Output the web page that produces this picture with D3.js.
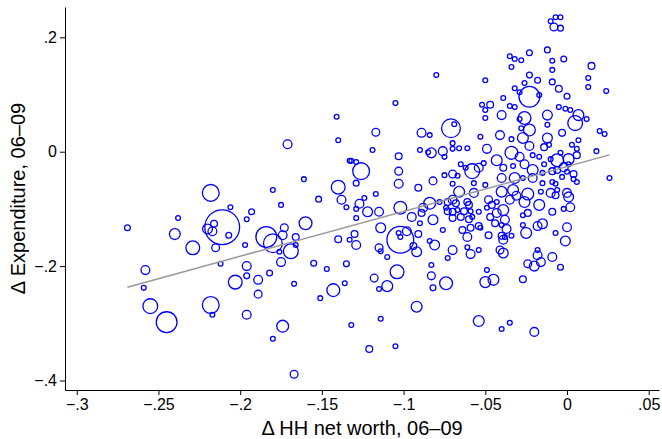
<!DOCTYPE html>
<html>
<head>
<meta charset="utf-8">
<script src="https://cdn.jsdelivr.net/npm/d3@7"></script>
<style>
  html, body { margin: 0; padding: 0; background: #fff; }
  svg { display: block; font-family: 'Liberation Sans', Arial, sans-serif; }
</style>
</head>
<body>
<div id="chart"></div>
<script>
// change in household net worth, 06-09 (x)
const netWorth = [
  -0.269,-0.258,-0.259,-0.255,-0.245,-0.218,-0.211,-0.220,-0.216,-0.217,
  -0.207,-0.206,-0.238,-0.240,-0.229,-0.215,-0.212,-0.218,-0.217,-0.196,
  -0.193,-0.196,-0.197,-0.196,-0.196,-0.203,-0.189,-0.189,-0.182,-0.180,
  -0.175,-0.184,-0.180,-0.173,-0.174,-0.166,-0.166,-0.169,-0.175,-0.176,
  -0.167,-0.174,-0.180,-0.167,-0.171,-0.141,-0.140,-0.117,-0.119,-0.133,
  -0.132,-0.129,-0.126,-0.129,-0.140,-0.161,-0.117,-0.138,-0.135,-0.152,
  -0.127,-0.129,-0.124,-0.122,-0.115,-0.160,-0.129,-0.114,-0.140,-0.130,
  -0.133,-0.129,-0.115,-0.114,-0.110,-0.155,-0.147,-0.135,-0.136,-0.143,
  -0.151,-0.118,-0.110,-0.115,-0.114,-0.132,-0.105,-0.121,-0.105,-0.080,
  -0.089,-0.084,-0.071,-0.069,-0.083,-0.085,-0.076,-0.070,-0.070,-0.066,
  -0.061,-0.075,-0.090,-0.103,-0.103,-0.103,-0.091,-0.102,-0.095,-0.089,
  -0.088,-0.084,-0.082,-0.090,-0.078,-0.073,-0.070,-0.068,-0.074,-0.073,
  -0.070,-0.067,-0.102,-0.103,-0.102,-0.098,-0.091,-0.076,-0.081,-0.084,
  -0.092,-0.094,-0.070,-0.073,-0.059,-0.061,-0.054,-0.104,-0.083,-0.083,
  -0.082,-0.074,-0.092,-0.082,-0.075,-0.070,-0.070,-0.067,-0.065,-0.062,
  -0.058,-0.054,-0.051,-0.049,-0.057,-0.050,-0.057,-0.066,-0.063,-0.061,
  -0.060,-0.059,-0.070,-0.065,-0.060,-0.058,-0.054,-0.049,-0.048,-0.046,
  -0.043,-0.047,-0.043,-0.039,-0.038,-0.044,-0.040,-0.054,-0.053,-0.059,
  -0.064,-0.061,-0.048,-0.040,-0.041,-0.054,-0.040,-0.035,-0.020,-0.049,
  -0.050,-0.045,-0.027,-0.024,-0.020,-0.016,-0.018,-0.018,-0.009,-0.004,
  -0.039,-0.010,-0.007,-0.004,-0.008,-0.004,-0.035,-0.032,-0.028,-0.034,
  -0.023,-0.012,-0.009,-0.002,-0.009, 0.015, 0.013, 0.013, 0.024,-0.050,
  -0.023,-0.018,-0.026,-0.009,-0.032,-0.029,-0.005,-0.023,-0.017, 0.000,
  -0.039,-0.052,-0.047,-0.050,-0.035,-0.032,-0.050,-0.040,-0.005,-0.001,
   0.002,-0.012,-0.026,-0.029,-0.028, 0.007, 0.005, 0.012,-0.012,-0.023,
  -0.041,-0.053,-0.027,-0.012,-0.003,-0.034, 0.020, 0.023, 0.007, 0.003,
  -0.023,-0.014,-0.011,-0.034,-0.029, 0.006, 0.018,-0.043,-0.021,-0.017,
  -0.014,-0.010,-0.006,-0.004, 0.001, 0.006, 0.026,-0.039,-0.033,-0.026,
  -0.021,-0.015,-0.009,-0.006,-0.002, 0.001, 0.000, 0.004, 0.004, 0.006,
  -0.032,-0.027,-0.021,-0.015,-0.009,-0.007,-0.003,-0.040,-0.033,-0.031,
  -0.035,-0.024,-0.026,-0.017,-0.010,-0.007,-0.006, 0.000, 0.001, 0.002,
  -0.002,-0.009,-0.016,-0.027,-0.024,-0.027,-0.025,-0.018,-0.015, 0.000,
  -0.007,-0.001,-0.037,-0.038,-0.039,-0.034,-0.040
];

// change in expenditure, 06-09 (y)
const expenditure = [
  -0.133,-0.207,-0.238,-0.270,-0.298,-0.072,-0.132,-0.135,-0.126,-0.139,
  -0.146,-0.097,-0.116,-0.144,-0.168,-0.168,-0.196,-0.268,-0.285,-0.285,
  -0.105,-0.118,-0.163,-0.200,-0.217,-0.228,-0.224,-0.249,-0.212,-0.067,
  -0.093,-0.149,-0.160,-0.133,-0.146,-0.149,-0.163,-0.174,-0.193,-0.175,
  -0.231,-0.305,-0.327,-0.389, 0.013, 0.061, 0.020, 0.034, 0.003,-0.016,
  -0.016,-0.018,-0.034,-0.055,-0.062,-0.048,-0.074,-0.084,-0.097,-0.083,
  -0.091,-0.100,-0.081,-0.105,-0.105,-0.125,-0.116,-0.133,-0.153,-0.144,
  -0.154,-0.163,-0.168,-0.174,-0.184,-0.195,-0.205,-0.196,-0.230,-0.242,
  -0.256,-0.221,-0.235,-0.240,-0.292,-0.303,-0.340,-0.345, 0.085, 0.134,
   0.033, 0.029, 0.041, 0.048,-0.002,-0.001, 0.001, 0.015, 0.005, 0.006,
   0.006,-0.009, 0.003,-0.008,-0.034,-0.056,-0.063,-0.098,-0.114,-0.107,
  -0.098,-0.090,-0.119,-0.125,-0.088,-0.088,-0.084,-0.090,-0.098,-0.104,
  -0.105,-0.102,-0.154,-0.142,-0.149,-0.139,-0.144,-0.137,-0.163,-0.156,
  -0.175,-0.165,-0.172,-0.186,-0.179,-0.167,-0.172,-0.210,-0.198,-0.217,
  -0.238,-0.230,-0.271,-0.051,-0.041,-0.039,-0.056,-0.042,-0.022,-0.028,
  -0.034,-0.028,-0.020, 0.005,-0.055,-0.058,-0.072,-0.070,-0.104,-0.088,
  -0.093,-0.104,-0.116,-0.114,-0.118,-0.114,-0.105,-0.098,-0.084,-0.093,
  -0.088,-0.114,-0.107,-0.102,-0.119,-0.125,-0.128,-0.130,-0.133,-0.133,
  -0.137,-0.149,-0.146,-0.147,-0.172,-0.296,-0.310,-0.299,-0.315,-0.207,
  -0.228,-0.224,-0.223,-0.196,-0.200,-0.193,-0.181,-0.172,-0.184,-0.202,
  -0.177, 0.228, 0.235, 0.235, 0.218, 0.216, 0.167, 0.162, 0.160, 0.148,
   0.173, 0.178, 0.159, 0.162, 0.143, 0.150, 0.129, 0.113, 0.106, 0.125,
   0.134, 0.125, 0.120, 0.122, 0.111, 0.104, 0.110, 0.096, 0.099, 0.097,
   0.094, 0.082, 0.082, 0.073, 0.080, 0.078, 0.059, 0.064, 0.078, 0.075,
   0.073, 0.064, 0.059, 0.057, 0.041, 0.064, 0.050, 0.057, 0.047, 0.038,
   0.029, 0.026, 0.024, 0.024, 0.033, 0.022, 0.036, 0.031, 0.020, 0.012,
   0.010, 0.008, 0.012,-0.002,-0.009, 0.005, 0.001,-0.015,-0.006,-0.009,
  -0.022,-0.013,-0.015,-0.002,-0.013,-0.006,-0.046,-0.028,-0.025,-0.022,
  -0.032,-0.037,-0.034,-0.032,-0.027,-0.022,-0.035,-0.039,-0.048,-0.053,
  -0.046,-0.046,-0.046,-0.055,-0.053,-0.056,-0.044,-0.070,-0.067,-0.077,
  -0.084,-0.074,-0.088,-0.093,-0.072,-0.076,-0.067,-0.072,-0.079,-0.097,
  -0.100,-0.105,-0.070,-0.111,-0.107,-0.128,-0.142,-0.130,-0.126,-0.132,
  -0.142,-0.156,-0.135,-0.149,-0.154,-0.147,-0.046
];

// weights (households, thousands) -> circle area
const households = [
  34,77,23,219,433,282,1211,96,46,77,
  34,23,23,117,190,61,23,282,23,77,
  34,23,23,77,34,190,77,61,34,23,
  23,433,353,61,77,46,23,219,77,23,
  23,139,23,61,77,23,23,61,23,23,
  23,23,282,34,190,23,23,77,23,34,
  77,23,23,96,77,164,23,96,46,46,
  23,77,61,23,23,34,23,34,23,164,
  23,61,117,23,23,23,23,46,23,23,
  77,23,353,23,96,23,77,23,23,23,
  23,23,23,46,61,77,46,164,77,46,
  77,139,96,23,23,46,77,46,23,46,
  46,23,718,23,23,77,46,23,96,23,
  96,46,77,23,77,23,23,190,23,61,
  34,164,117,61,23,61,23,23,23,23,
  219,77,23,77,23,23,77,117,46,46,
  46,23,46,46,46,23,23,23,61,46,
  23,46,77,117,77,46,23,46,23,46,
  46,77,46,46,61,117,23,23,77,23,
  117,117,46,61,96,77,77,23,77,34,
  96,23,23,23,61,34,23,23,23,23,
  34,34,23,34,23,46,23,23,23,23,
  34,34,23,34,23,23,46,433,23,34,
  23,23,46,23,23,23,23,77,23,23,
  23,96,164,23,23,117,219,23,23,139,
  77,23,117,96,46,23,23,23,23,23,
  77,46,23,164,77,23,23,117,23,23,
  23,23,164,23,117,46,23,46,23,77,
  117,23,46,46,77,23,23,46,23,23,
  117,23,77,23,23,23,23,117,117,77,
  77,139,117,117,77,46,23,77,96,77,
  23,46,23,23,46,23,117,77,96,77,
  23,96,77,23,77,23,77
];

const xTicks = [-0.3, -0.25, -0.2, -0.15, -0.1, -0.05, 0, 0.05];
const yTicks = [-0.4, -0.2, 0, 0.2];

// linear fit
const fitIntercept = -0.0259;
const fitSlope = 0.784;

const width = 662, height = 439;
const plot = { left: 65, right: 659, top: 7, bottom: 390 };

const data = netWorth.map((d, i) => ({ x: d, y: expenditure[i], w: households[i] }));

const svg = d3
  .select('#chart')
  .append('svg')
  .attr('width', width)
  .attr('height', height);

const x = d3.scaleLinear().domain([-0.3072, 0.0563]).range([plot.left, plot.right]);
const y = d3.scaleLinear().domain([-0.4166, 0.253]).range([plot.bottom, plot.top]);
const r = d3.scaleSqrt().domain([0, 1296]).range([0, 18]);

// stata-ish labels: no leading zero, real minus sign
const stripZero = (s) => s.replace(/^(\u2212?)0\./, '$1.');
const fmtX = (v) => (v === 0 ? '0' : stripZero(d3.format('.2~f')(v)));
const fmtY = (v) => (v === 0 ? '0' : stripZero(d3.format('.1f')(v)));

// points
svg
  .append('g')
  .selectAll('circle')
  .data(data)
  .enter()
  .append('circle')
  .attr('cx', (d) => x(d.x))
  .attr('cy', (d) => y(d.y))
  .attr('r', (d) => r(d.w))
  .attr('fill', 'none')
  .attr('stroke', '#0000ff')
  .attr('stroke-width', 1.3);

// fitted line over the range of the data
const xExt = d3.extent(netWorth);
svg
  .append('path')
  .datum(xExt)
  .attr('fill', 'none')
  .attr('stroke', '#999999')
  .attr('stroke-width', 1.5)
  .attr(
    'd',
    d3
      .line()
      .x((d) => x(d))
      .y((d) => y(fitIntercept + fitSlope * d))
  );

// axes
const xAxis = svg
  .append('g')
  .attr('transform', `translate(0, ${plot.bottom})`)
  .call(d3.axisBottom(x).tickValues(xTicks).tickFormat(fmtX).tickSize(5).tickSizeOuter(0).tickPadding(4));

const yAxis = svg
  .append('g')
  .attr('transform', `translate(${plot.left}, 0)`)
  .call(d3.axisLeft(y).tickValues(yTicks).tickFormat(fmtY).tickSize(5).tickSizeOuter(0).tickPadding(3));

[xAxis, yAxis].forEach((g) => {
  g.selectAll('path, line').attr('stroke', '#000').attr('stroke-width', 1);
  g.selectAll('text').attr('fill', '#000').style('font-size', '16px').style('font-family', null);
});

// axis titles
svg
  .append('text')
  .attr('x', (plot.left + plot.right) / 2)
  .attr('y', 435)
  .attr('text-anchor', 'middle')
  .style('font-size', '20px')
  .text('\u0394 HH net worth, 06\u201309');

svg
  .append('text')
  .attr('transform', `translate(25, ${(plot.top + plot.bottom) / 2}) rotate(-90)`)
  .attr('text-anchor', 'middle')
  .style('font-size', '20px')
  .text('\u0394 Expenditure, 06\u201309');
</script>
</body>
</html>
